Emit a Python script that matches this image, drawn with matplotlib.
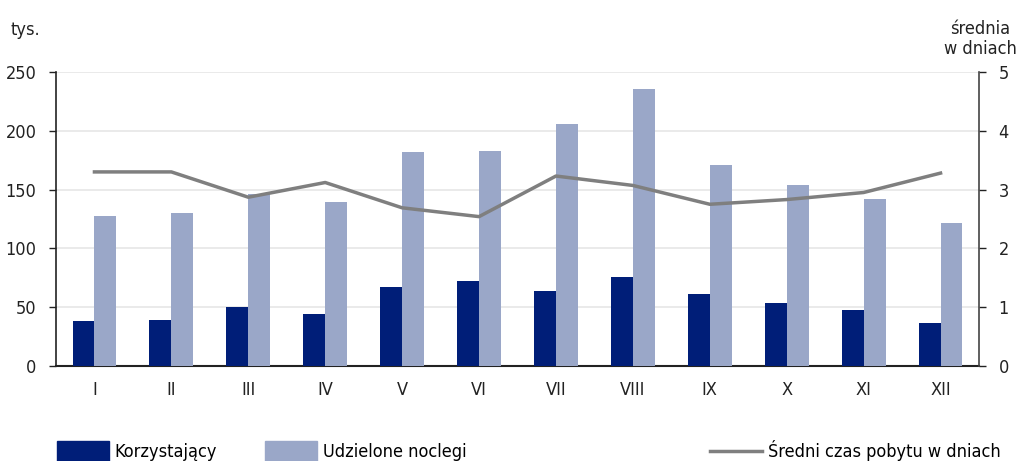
import matplotlib
matplotlib.use("Agg")
import matplotlib.pyplot as plt
import numpy as np
from matplotlib.lines import Line2D
from matplotlib.patches import Patch

months = ["I", "II", "III", "IV", "V", "VI", "VII", "VIII", "IX", "X", "XI", "XII"]
korzystajacy = [38, 39, 50, 44, 67, 72, 63.5, 76, 61, 53.5, 48, 36.5]
noclegi = [127.5, 130, 146, 139.5, 182, 183, 205.5, 235.5, 170.5, 153.5, 142, 122]
sredni_czas = [3.30, 3.30, 2.87, 3.12, 2.69, 2.54, 3.23, 3.07, 2.75, 2.83, 2.95, 3.28]

plt.rcParams['font.family'] = ['DejaVu Sans']
plt.rcParams['font.stretch'] = 'condensed'
dark = "#001e78"
light = "#9aa7c8"
grey = "#7f7f7f"
fs = 13

fig = plt.figure(figsize=(10.18, 4.61), dpi=100)
ax = fig.add_axes([0.055, 0.206, 0.9067, 0.638])
ax2 = ax.twinx()

x = np.arange(len(months))
w = 0.285
ax.bar(x - w/2, korzystajacy, w, color=dark, zorder=3)
ax.bar(x + w/2, noclegi, w, color=light, zorder=3)
ax2.plot(x, sredni_czas, color=grey, lw=2.5, zorder=4)

ax.set_xlim(-0.5, 11.5)
ax.set_ylim(0, 250)
ax.set_yticks(range(0, 251, 50))
ax2.set_ylim(0, 5)
ax2.set_yticks(range(0, 6))
ax.set_xticks(x)
ax.set_xticklabels(months)
ax.grid(axis='y', color='#e6e6e6', lw=1.2, zorder=0)
ax.set_axisbelow(True)

for a in (ax, ax2):
    a.spines['top'].set_visible(False)
ax.spines['right'].set_visible(False)
ax2.spines['left'].set_visible(False)
ax2.spines['bottom'].set_visible(False)
ax.spines['left'].set_color('#222222')
ax.spines['bottom'].set_color('#222222')
ax2.spines['right'].set_color('#444444')
ax.spines['left'].set_linewidth(1.2)
ax.spines['bottom'].set_linewidth(1.5)
ax2.spines['right'].set_linewidth(1.2)

ax.tick_params(axis='y', labelsize=fs, length=5, width=1, pad=9, colors='#222222')
ax.tick_params(axis='x', labelsize=fs, length=0, pad=11, colors='#222222')
ax2.tick_params(axis='y', labelsize=fs, length=5, width=1, pad=9, colors='#222222')

fig.text(0.010, 0.935, "tys.", fontsize=fs, ha='left', va='center', color='#222222')
fig.text(0.963, 0.915, "średnia\nw dniach", fontsize=fs, ha='center', va='center',
         color='#222222', linespacing=1.15)

ly = 0.022
common = dict(loc='center left', frameon=False, fontsize=fs, borderpad=0,
              borderaxespad=0, handletextpad=0.3)
l1 = fig.legend([Patch(color=dark)], ["Korzystający"], bbox_to_anchor=(57/1018, ly),
                handlelength=2.9, handleheight=1.35, **common)
l2 = fig.legend([Patch(color=light)], ["Udzielone noclegi"], bbox_to_anchor=(265/1018, ly),
                handlelength=2.9, handleheight=1.35, **common)
l3 = fig.legend([Line2D([0], [0], color=grey, lw=2.5)], ["Średni czas pobytu w dniach"],
                bbox_to_anchor=(710/1018, ly), handlelength=2.9, **common)

fig.savefig("out.png", dpi=100)
